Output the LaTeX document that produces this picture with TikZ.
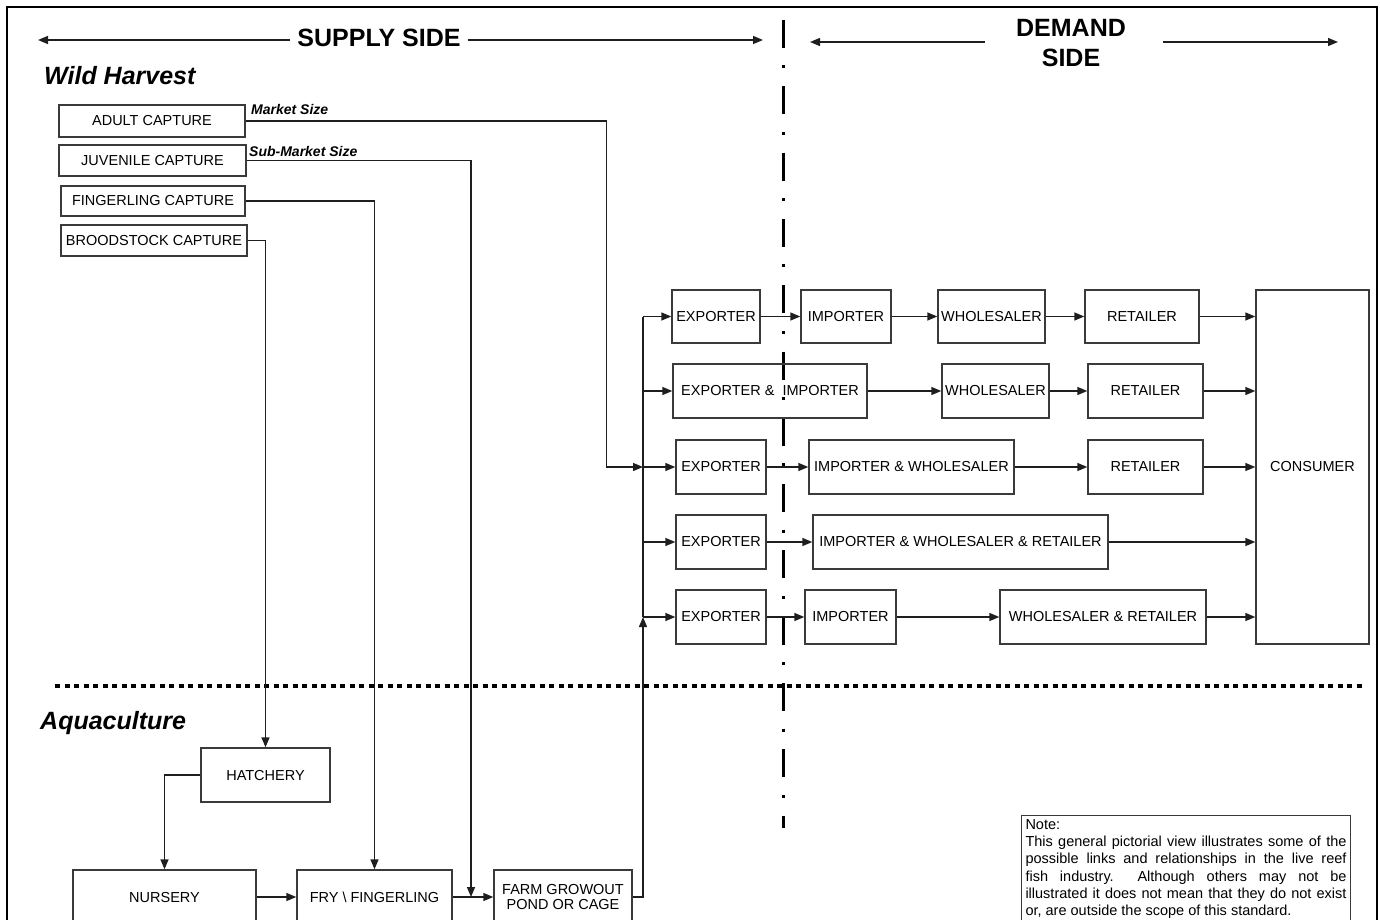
\documentclass[tikz,border=0pt]{standalone}
\usepackage{fontspec}
\setmainfont{Liberation Sans}
\usetikzlibrary{arrows.meta}
\definecolor{boxgrey}{HTML}{3A3A3A}
\definecolor{lineblack}{HTML}{1E1E1E}

\begin{document}
\begin{tikzpicture}[x=1pt, y=-1pt,
    every node/.style={font=\fontsize{14.5}{16.5}\selectfont, inner sep=1pt},
    box/.style={draw=boxgrey, line width=1.4pt, rectangle, align=center},
    conn/.style={line width=1.4pt, draw=lineblack},
    arr/.style={conn, -{Triangle[length=10pt, width=8pt]}},
    heading/.style={font=\fontsize{25}{30}\selectfont\bfseries, align=center, inner sep=7pt},
    region/.style={font=\fontsize{25}{30}\selectfont\bfseries\itshape, anchor=west},
    sizelabel/.style={font=\fontsize{14}{16}\selectfont\bfseries\itshape, anchor=base west}
]
\useasboundingbox (0,0) rectangle (1380,920);

% Frame
\draw[line width=2.5pt] (7,940) -- (7,7) -- (1377,7) -- (1377,940);

% Headings
\node[heading] (supply) at (379,38) {SUPPLY SIDE};
\node[heading] (demand) at (1071,43) {DEMAND\\SIDE};
\coordinate (supplyL) at (38,40);
\coordinate (supplyR) at (763,40);
\coordinate (demandLs) at (985,42);
\coordinate (demandL) at (810,42);
\coordinate (demandRs) at (1163,42);
\coordinate (demandR) at (1338,42);
\draw[arr] (supply.west |- supplyL) -- (supplyL);
\draw[arr] (supply.east |- supplyR) -- (supplyR);
\draw[arr] (demandLs) -- (demandL);
\draw[arr] (demandRs) -- (demandR);

% Supply / demand divide
\draw[line width=3pt, dash pattern=on 28pt off 17.5pt on 3pt off 17.8pt] (783,20) -- (783,828);
% Wild harvest / aquaculture divide
\draw[line width=3.5pt, dash pattern=on 5pt off 4.5pt] (55,686) -- (1365,686);

% Wild Harvest
\node[region] (wild) at (43,76) {Wild Harvest};
\node[box, minimum width=186pt, minimum height=32pt] (adult) at (152,121) {ADULT CAPTURE};
\node[box, minimum width=187pt, minimum height=31pt] (juvenile) at (152.5,160.5) {JUVENILE CAPTURE};
\node[box, minimum width=184pt, minimum height=30pt] (fingcap) at (153,201) {FINGERLING CAPTURE};
\node[box, minimum width=186pt, minimum height=31pt] (brood) at (154,240.5) {BROODSTOCK CAPTURE};
\node[sizelabel] (market) at (250,115) {Market Size};
\node[sizelabel] (submarket) at (248,157) {Sub-Market Size};

% Aquaculture
\node[region] (aqua) at (39,723) {Aquaculture};
\node[box, minimum width=129pt, minimum height=54pt] (hatchery) at (265.5,775) {HATCHERY};
\node[box, minimum width=183pt, minimum height=54pt] (nursery) at (164.5,897) {NURSERY};
\node[box, minimum width=155pt, minimum height=54pt] (fry) at (374.5,897) {FRY \textbackslash\ FINGERLING};
\node[box, minimum width=138pt, minimum height=54pt] (farm) at (563,897) {FARM GROWOUT\\[-1pt]POND OR CAGE};

% Exporter rows
\node[box, minimum width=88pt, minimum height=53pt] (exp1) at (716,316.5) {EXPORTER};
\node[box, minimum width=90pt, minimum height=53pt] (imp1) at (846,316.5) {IMPORTER};
\node[box, minimum width=107pt, minimum height=53pt] (whs1) at (991.5,316.5) {WHOLESALER};
\node[box, minimum width=114pt, minimum height=53pt] (ret1) at (1142,316.5) {RETAILER};

\node[box, minimum width=194pt, minimum height=54pt] (expimp2) at (770,391) {EXPORTER \& \ IMPORTER};
\node[box, minimum width=107pt, minimum height=54pt] (whs2) at (995.5,391) {WHOLESALER};
\node[box, minimum width=115pt, minimum height=54pt] (ret2) at (1145.5,391) {RETAILER};

\node[box, minimum width=90pt, minimum height=54pt] (exp3) at (721,467) {EXPORTER};
\node[box, minimum width=205pt, minimum height=54pt] (impwhs3) at (911.5,467) {IMPORTER \& WHOLESALER};
\node[box, minimum width=115pt, minimum height=54pt] (ret3) at (1145.5,467) {RETAILER};

\node[box, minimum width=90pt, minimum height=54pt] (exp4) at (721,542) {EXPORTER};
\node[box, minimum width=295pt, minimum height=54pt] (iwr4) at (960.5,542) {IMPORTER \& WHOLESALER \& RETAILER};

\node[box, minimum width=90pt, minimum height=54pt] (exp5) at (721,617) {EXPORTER};
\node[box, minimum width=91pt, minimum height=54pt] (imp5) at (850.5,617) {IMPORTER};
\node[box, minimum width=206pt, minimum height=54pt] (wr5) at (1103,617) {WHOLESALER \& RETAILER};

\node[box, minimum width=113pt, minimum height=354pt] (consumer) at (1312.5,467) {CONSUMER};

% Note
\node[draw=boxgrey, line width=1pt, anchor=north west, text width=321pt, inner sep=4pt,
      align=justify, font=\fontsize{14.5}{17.2}\selectfont] (note) at (1021,815)
    {Note:\\
     This general pictorial view illustrates some of the\linebreak
     possible links and relationships in the live reef\linebreak
     fish industry.\ \ Although others may not be\linebreak
     illustrated it does not mean that they do not exist\linebreak
     or, are outside the scope of this standard.};

% Capture routes
\coordinate (bus) at (643,0);
\coordinate (busmid) at (643,467);
\coordinate (buslow) at (643,617);
\coordinate (joinfarm) at (471,897);
\draw[arr] (adult.east) -- ++(361,0) |- (busmid);
\draw[arr] (juvenile.east) -| (joinfarm);
\draw[arr] (fingcap.east) -| (fry.north);
\draw[arr] (brood.east) -| (hatchery.north);

% Aquaculture flow
\draw[arr] (hatchery.west) -| (nursery.north);
\draw[arr] (nursery.east) -- (fry.west);
\draw[arr] (fry.east) -- (farm.west);
\draw[arr] (farm.east) -| (buslow);
\draw[conn] (exp1.west -| bus) -- (buslow);

% Into exporters
\foreach \e in {exp1, expimp2, exp3, exp4, exp5}
    \draw[arr] (\e.west -| bus) -- (\e.west);

% Along the chains
\draw[arr] (exp1) -- (imp1);
\draw[arr] (imp1) -- (whs1);
\draw[arr] (whs1) -- (ret1);
\draw[arr] (expimp2) -- (whs2);
\draw[arr] (whs2) -- (ret2);
\draw[arr] (exp3) -- (impwhs3);
\draw[arr] (impwhs3) -- (ret3);
\draw[arr] (exp4) -- (iwr4);
\draw[arr] (exp5) -- (imp5);
\draw[arr] (imp5) -- (wr5);

% To consumer
\foreach \r in {ret1, ret2, ret3, iwr4, wr5}
    \draw[arr] (\r.east) -- (\r.east -| consumer.west);
\end{tikzpicture}
\end{document}
